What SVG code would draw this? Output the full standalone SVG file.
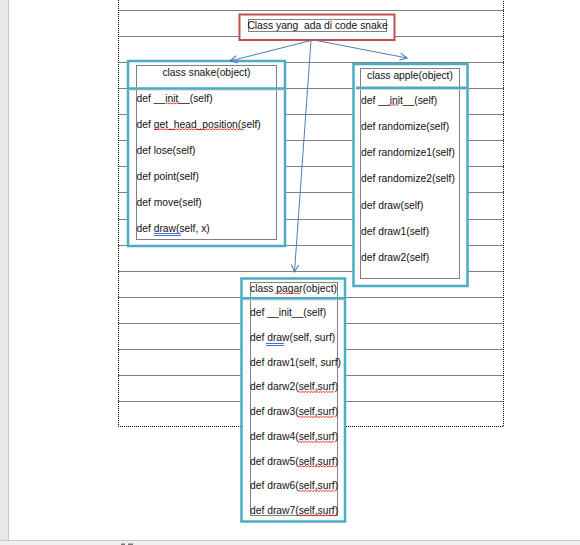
<svg xmlns="http://www.w3.org/2000/svg" width="580" height="545" viewBox="0 0 580 545">
<defs>
<style>
.dot{fill:none;stroke:#000;stroke-width:1;stroke-dasharray:1 1}
.box{fill:#fff;stroke:#4bacc6;stroke-width:2.5}
.sep{stroke:#4bacc6;stroke-width:2.5}
.shadow{stroke:#c9c9c9;stroke-width:1}
.t{font-family:"Liberation Sans",Arial,sans-serif;font-size:10.3px;fill:#111;white-space:pre}
.c{text-anchor:middle}
.sq{fill:none;stroke:#e02020;stroke-width:0.9}
.ul{fill:none;stroke:#3060d0;stroke-width:0.9}
.con{fill:none;stroke:#4a7ebb;stroke-width:1}
</style>
<marker id="arr" viewBox="0 0 10 10" refX="9" refY="5" markerWidth="9" markerHeight="9" markerUnits="userSpaceOnUse" orient="auto">
<path d="M1,1 L9,5 L1,9" fill="none" stroke="#4a7ebb" stroke-width="1.2"/>
</marker>
</defs>
<rect x="0" y="0" width="580" height="545" fill="#fff"/>
<!-- window chrome -->
<rect x="0" y="0" width="8" height="540" fill="#e8e8e8"/>
<line x1="8.5" y1="0" x2="8.5" y2="540" stroke="#c8c8c8"/>
<rect x="0" y="540" width="580" height="5" fill="#f0f0f0"/>
<line x1="0" y1="540.5" x2="580" y2="540.5" stroke="#c8c8c8"/>
<rect x="121" y="543.5" width="4" height="1.5" fill="#777"/>
<rect x="128" y="543.5" width="5" height="1.5" fill="#777"/>
<!-- table -->
<g id="table">
<path class="dot" d="M118.5,0 V426.5 H503.5 V0"/>
<path class="dot" d="M118.5,10.5 H503.5 M118.5,36.5 H503.5 M118.5,62.5 H503.5 M118.5,88.5 H503.5 M118.5,114.5 H503.5 M118.5,140.5 H503.5 M118.5,166.5 H503.5 M118.5,192.5 H503.5 M118.5,219.5 H503.5 M118.5,245.5 H503.5 M118.5,271.5 H503.5 M118.5,297.5 H503.5 M118.5,323.5 H503.5 M118.5,349.5 H503.5 M118.5,375.5 H503.5 M118.5,401.5 H503.5"/>
</g>
<!-- title -->
<g id="title">
<rect x="239.5" y="14.5" width="155" height="25.5" fill="#fff" stroke="#c0504d" stroke-width="2"/>
<rect class="dot" x="248.5" y="19.5" width="138" height="12"/>
<text class="t c" x="317.5" y="29" xml:space="preserve">Class yang  ada di code snake</text>
</g>
<!-- snake -->
<g id="snake">
<rect class="box" x="128" y="61" width="157" height="185"/>
<rect class="dot" x="136.5" y="65.5" width="140" height="174"/>
<line class="shadow" x1="128" y1="90" x2="285" y2="90"/>
<line class="sep" x1="128" y1="88.5" x2="285" y2="88.5"/>
<text class="t c" x="206.5" y="75.5">class snake(object)</text>
<text class="t" x="136.5" y="101.5">def __init__(self)</text>
<text class="t" x="136.5" y="127.5">def get_head_position(self)</text>
<text class="t" x="136.5" y="153.5">def lose(self)</text>
<text class="t" x="136.5" y="179.5">def point(self)</text>
<text class="t" x="136.5" y="205.5">def move(self)</text>
<text class="t" x="136.5" y="231.5">def draw(self, x)</text>
<path class="sq" d="M166,104 l1.5,-1.2 1.5,1.2 1.5,-1.2 1.5,1.2 1.5,-1.2 1.5,1.2 1.5,-1.2 1.5,1.2 1.5,-1.2 1.5,1.2"/>
<path class="sq" d="M154,130 l1.5,-1.2 1.5,1.2 1.5,-1.2 1.5,1.2 1.5,-1.2 1.5,1.2 1.5,-1.2 1.5,1.2 1.5,-1.2 1.5,1.2 1.5,-1.2 1.5,1.2 1.5,-1.2 1.5,1.2 1.5,-1.2 1.5,1.2 1.5,-1.2 1.5,1.2 1.5,-1.2 1.5,1.2 1.5,-1.2 1.5,1.2 1.5,-1.2 1.5,1.2 1.5,-1.2 1.5,1.2 1.5,-1.2 1.5,1.2 1.5,-1.2 1.5,1.2 1.5,-1.2 1.5,1.2 1.5,-1.2 1.5,1.2 1.5,-1.2 1.5,1.2 1.5,-1.2 1.5,1.2 1.5,-1.2 1.5,1.2 1.5,-1.2 1.5,1.2 1.5,-1.2 1.5,1.2 1.5,-1.2 1.5,1.2 1.5,-1.2 1.5,1.2 1.5,-1.2 1.5,1.2 1.5,-1.2 1.5,1.2 1.5,-1.2 1.5,1.2 1.5,-1.2 1.5,1.2 1.5,-1.2 1.5,1.2 1.5,-1.2 1.5,1.2"/>
<path class="ul" d="M154,233.5 H181 M154,235.5 H181"/>
</g>
<!-- apple -->
<g id="apple">
<rect class="box" x="353.5" y="64" width="114" height="222"/>
<rect class="dot" x="360.5" y="68.5" width="99" height="210"/>
<line class="shadow" x1="356" y1="89.3" x2="467" y2="89.3"/>
<line class="sep" x1="356" y1="87.8" x2="467" y2="87.8"/>
<text class="t c" x="410" y="79">class apple(object)</text>
<text class="t" x="361" y="103.5">def __init__(self)</text>
<text class="t" x="361" y="130">def randomize(self)</text>
<text class="t" x="361" y="156">def randomize1(self)</text>
<text class="t" x="361" y="182">def randomize2(self)</text>
<text class="t" x="361" y="208.5">def draw(self)</text>
<text class="t" x="361" y="234.5">def draw1(self)</text>
<text class="t" x="361" y="260.5">def draw2(self)</text>
<path class="sq" d="M388,105.5 l1.5,-1.2 1.5,1.2 1.5,-1.2 1.5,1.2 1.5,-1.2 1.5,1.2 1.5,-1.2"/>
</g>
<!-- pagar -->
<g id="pagar">
<rect class="box" x="241.5" y="278.5" width="103.5" height="243"/>
<rect class="dot" x="250.5" y="282.5" width="87" height="233"/>
<line class="shadow" x1="241.5" y1="299.8" x2="345" y2="299.8"/>
<line class="sep" x1="241.5" y1="298.3" x2="345" y2="298.3"/>
<text class="t c" x="293.5" y="291.5">class pagar(object)</text>
<text class="t" x="250" y="316">def __init__(self)</text>
<text class="t" x="250" y="341">def draw(self, surf)</text>
<text class="t" x="250" y="365.5">def draw1(self, surf)</text>
<text class="t" x="250" y="390">def darw2(self,surf)</text>
<text class="t" x="250" y="415">def draw3(self,surf)</text>
<text class="t" x="250" y="440">def draw4(self,surf)</text>
<text class="t" x="250" y="464.5">def draw5(self,surf)</text>
<text class="t" x="250" y="489">def draw6(self,surf)</text>
<text class="t" x="250" y="513.5">def draw7(self,surf)</text>
<path class="sq" d="M275,294 l1.5,-1.2 1.5,1.2 1.5,-1.2 1.5,1.2 1.5,-1.2 1.5,1.2 1.5,-1.2 1.5,1.2 1.5,-1.2 1.5,1.2 1.5,-1.2 1.5,1.2 1.5,-1.2 1.5,1.2 1.5,-1.2 1.5,1.2 1.5,-1.2"/>
<path class="ul" d="M266,343.5 H284 M266,345.5 H284"/>
<g id="squiggles">
<path id="sw" class="sq" d="M298,392.5 l1.5,-1.2 1.5,1.2 1.5,-1.2 1.5,1.2 1.5,-1.2 1.5,1.2 1.5,-1.2 1.5,1.2 1.5,-1.2 1.5,1.2 1.5,-1.2 1.5,1.2 1.5,-1.2 1.5,1.2 1.5,-1.2 1.5,1.2 1.5,-1.2 1.5,1.2 1.5,-1.2 1.5,1.2 1.5,-1.2 1.5,1.2 1.5,-1.2 1.5,1.2"/>
<use href="#sw" y="25"/>
<use href="#sw" y="50"/>
<use href="#sw" y="74.5"/>
<use href="#sw" y="99"/>
<use href="#sw" y="123.5"/>
</g>
</g>
<!-- connectors -->
<g id="connectors">
<line class="con" x1="311" y1="40.5" x2="230" y2="61" marker-end="url(#arr)"/>
<line class="con" x1="316.5" y1="40.5" x2="407" y2="58" marker-end="url(#arr)"/>
<line class="con" x1="311" y1="40.5" x2="294.5" y2="272" marker-end="url(#arr)"/>
</g>
</svg>
